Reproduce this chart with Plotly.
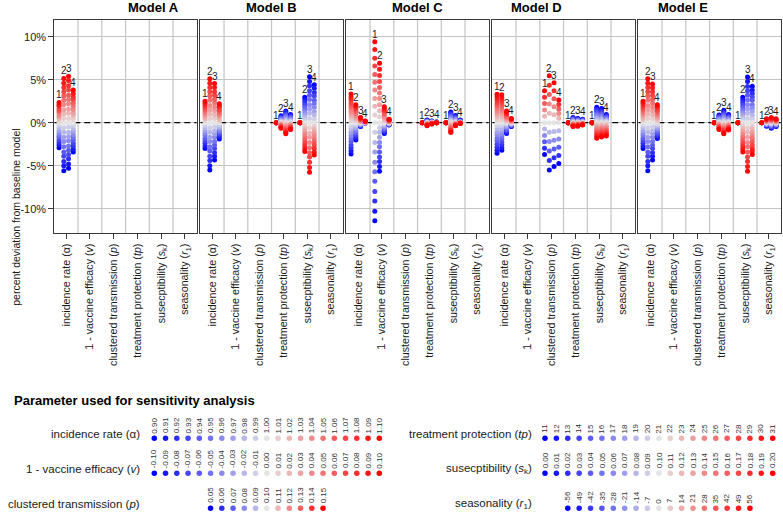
import plotly.graph_objects as go

W, H = 783, 513
FONT = "Liberation Sans, Arial, Helvetica, sans-serif"

# ---------------- labels ----------------
models = ["Model A", "Model B", "Model C", "Model D", "Model E"]
categories = [
    "incidence rate (α)",
    "1 - vaccine efficacy (<i>v</i>)",
    "clustered transmission (<i>p</i>)",
    "treatment protection (<i>tp</i>)",
    "susecptibility (<i>s</i><sub>k</sub>)",
    "seasonality (<i>r</i><sub>1</sub>)",
]
y_tickvals = [-10, -5, 0, 5, 10]
y_ticktext = ["-10%", "-5%", "0%", "5%", "10%"]
y_title = "percent deviation from baseline model"
legend_title = "Parameter used for sensitivity analysis"

# ---------------- parameter values (legend) ----------------
alpha_values = [0.90, 0.91, 0.92, 0.93, 0.94, 0.95, 0.96, 0.97, 0.98, 0.99, 1.00,
                1.01, 1.02, 1.03, 1.04, 1.05, 1.06, 1.07, 1.08, 1.09, 1.10]
v_values = [-0.10, -0.09, -0.08, -0.07, -0.06, -0.05, -0.04, -0.03, -0.02, -0.01, 0.00,
            0.01, 0.02, 0.03, 0.04, 0.05, 0.06, 0.07, 0.08, 0.09, 0.10]
p_values = [0.05, 0.06, 0.07, 0.08, 0.09, 0.10, 0.11, 0.12, 0.13, 0.14, 0.15]
tp_values = [11, 12, 13, 14, 15, 16, 17, 18, 19, 20, 21,
             22, 23, 24, 25, 26, 27, 28, 29, 30, 31]
sk_values = [0.00, 0.01, 0.02, 0.03, 0.04, 0.05, 0.06, 0.07, 0.08, 0.09, 0.10,
             0.11, 0.12, 0.13, 0.14, 0.15, 0.16, 0.17, 0.18, 0.19, 0.20]
r_values = [-56, -49, -42, -35, -28, -21, -14, -7, 0, 7, 14, 21, 28, 35, 42, 49, 56]

# ---------------- percent deviations (per column 1..4, in parameter order) ----------------
Z21 = [0] * 21
Z17 = [0] * 17

A_incidence = [
    [-2.9, -2.6, -2.3, -2.0, -1.7, -1.5, -1.2, -0.9, -0.6, -0.3, 0, 0.2, 0.5, 0.7, 0.9, 1.2, 1.4, 1.6, 1.9, 2.1, 2.35],
    [-5.6, -5.0, -4.5, -3.9, -3.4, -2.8, -2.2, -1.7, -1.1, -0.6, 0, 0.5, 1.0, 1.5, 2.1, 2.6, 3.1, 3.6, 4.1, 4.6, 5.15],
    [-5.3, -4.8, -4.2, -3.7, -3.2, -2.7, -2.1, -1.6, -1.1, -0.5, 0, 0.5, 1.1, 1.6, 2.2, 2.7, 3.2, 3.8, 4.3, 4.9, 5.4],
    [-3.4, -3.1, -2.7, -2.4, -2.0, -1.7, -1.4, -1.0, -0.7, -0.3, 0, 0.4, 0.8, 1.1, 1.5, 1.9, 2.3, 2.7, 3.0, 3.4, 3.8],
]

B_incidence = [
    [-3.0, -2.7, -2.4, -2.1, -1.8, -1.5, -1.2, -0.9, -0.6, -0.3, 0, 0.25, 0.5, 0.75, 1.0, 1.25, 1.5, 1.75, 2.0, 2.25, 2.5],
    [-5.5, -5.0, -4.4, -3.9, -3.3, -2.8, -2.2, -1.7, -1.1, -0.6, 0, 0.5, 1.0, 1.5, 2.0, 2.6, 3.1, 3.6, 4.1, 4.6, 5.1],
    [-4.35, -3.9, -3.5, -3.0, -2.6, -2.2, -1.7, -1.3, -0.9, -0.4, 0, 0.5, 0.9, 1.4, 1.8, 2.3, 2.7, 3.2, 3.6, 4.1, 4.55],
    [-1.9, -1.7, -1.5, -1.3, -1.1, -1.0, -0.8, -0.6, -0.4, -0.2, 0, 0.2, 0.4, 0.7, 0.9, 1.1, 1.3, 1.5, 1.8, 2.0, 2.2],
]
B_treatment = [
    Z21,
    [0.8, 0.72, 0.64, 0.56, 0.48, 0.4, 0.32, 0.24, 0.16, 0.08, 0, -0.07, -0.13, -0.2, -0.26, -0.33, -0.39, -0.46, -0.52, -0.59, -0.65],
    [1.35, 1.22, 1.08, 0.95, 0.81, 0.68, 0.54, 0.41, 0.27, 0.14, 0, -0.13, -0.26, -0.39, -0.52, -0.65, -0.78, -0.91, -1.04, -1.17, -1.3],
    [0.95, 0.86, 0.76, 0.67, 0.57, 0.48, 0.38, 0.29, 0.19, 0.1, 0, -0.08, -0.16, -0.24, -0.32, -0.4, -0.48, -0.56, -0.64, -0.72, -0.8],
]
B_suscept = [
    Z21,
    [2.95, 2.66, 2.36, 2.07, 1.77, 1.48, 1.18, 0.89, 0.59, 0.3, 0, -0.34, -0.67, -1.0, -1.34, -1.68, -2.01, -2.35, -2.68, -3.02, -3.35],
    [5.35, 4.8, 4.3, 3.7, 3.2, 2.7, 2.1, 1.6, 1.1, 0.5, 0, -0.6, -1.2, -1.7, -2.3, -2.9, -3.5, -4.0, -4.6, -5.2, -5.75],
    [4.4, 4.0, 3.5, 3.1, 2.6, 2.2, 1.8, 1.3, 0.9, 0.4, 0, -0.4, -0.75, -1.1, -1.5, -1.9, -2.25, -2.6, -3.0, -3.4, -3.75],
]

C_incidence = [
    [-3.65, -3.3, -2.9, -2.6, -2.2, -1.8, -1.5, -1.1, -0.7, -0.4, 0, 0.3, 0.7, 1.0, 1.3, 1.7, 2.0, 2.3, 2.7, 3.0, 3.35],
    [-2.0, -1.8, -1.6, -1.4, -1.2, -1.0, -0.8, -0.6, -0.4, -0.2, 0, 0.2, 0.4, 0.6, 0.8, 1.05, 1.3, 1.5, 1.7, 1.9, 2.1],
    [-0.45, -0.41, -0.36, -0.32, -0.27, -0.23, -0.18, -0.14, -0.09, -0.05, 0, 0.06, 0.12, 0.18, 0.24, 0.3, 0.36, 0.42, 0.48, 0.54, 0.6],
    [-0.05, -0.045, -0.04, -0.035, -0.03, -0.025, -0.02, -0.015, -0.01, -0.005, 0, 0.02, 0.04, 0.06, 0.08, 0.1, 0.12, 0.14, 0.16, 0.18, 0.2],
]
C_vaccine = [
    [-11.4, -10.3, -9.1, -8.0, -6.8, -5.7, -4.6, -3.4, -2.3, -1.1, 0, 0.9, 1.9, 2.8, 3.8, 4.7, 5.6, 6.6, 7.5, 8.5, 9.4],
    [-5.65, -5.1, -4.5, -4.0, -3.4, -2.8, -2.3, -1.7, -1.1, -0.6, 0, 0.7, 1.4, 2.1, 2.8, 3.45, 4.1, 4.8, 5.5, 6.2, 6.9],
    [-1.25, -1.13, -1.0, -0.88, -0.75, -0.63, -0.5, -0.38, -0.25, -0.13, 0, 0.19, 0.37, 0.56, 0.74, 0.93, 1.11, 1.3, 1.48, 1.67, 1.85],
    [-0.27, -0.24, -0.22, -0.19, -0.16, -0.14, -0.11, -0.08, -0.05, -0.03, 0, 0.04, 0.08, 0.12, 0.16, 0.2, 0.24, 0.28, 0.32, 0.36, 0.4],
]
C_treatment = [
    Z21,
    [0.3, 0.27, 0.24, 0.21, 0.18, 0.15, 0.12, 0.09, 0.06, 0.03, 0, -0.035, -0.07, -0.105, -0.14, -0.175, -0.21, -0.245, -0.28, -0.315, -0.35],
    [0.2, 0.18, 0.16, 0.14, 0.12, 0.1, 0.08, 0.06, 0.04, 0.02, 0, -0.015, -0.03, -0.045, -0.06, -0.075, -0.09, -0.105, -0.12, -0.135, -0.15],
    [0.08, 0.072, 0.064, 0.056, 0.048, 0.04, 0.032, 0.024, 0.016, 0.008, 0, -0.002, -0.004, -0.006, -0.008, -0.01, -0.012, -0.014, -0.016, -0.018, -0.02],
]
C_suscept = [
    Z21,
    [1.25, 1.13, 1.0, 0.88, 0.75, 0.63, 0.5, 0.38, 0.25, 0.13, 0, -0.12, -0.23, -0.35, -0.46, -0.58, -0.69, -0.81, -0.92, -1.04, -1.15],
    [0.85, 0.77, 0.68, 0.6, 0.51, 0.43, 0.34, 0.26, 0.17, 0.09, 0, -0.035, -0.07, -0.105, -0.14, -0.175, -0.21, -0.245, -0.28, -0.315, -0.35],
    [0.3, 0.27, 0.24, 0.21, 0.18, 0.15, 0.12, 0.09, 0.06, 0.03, 0, -0.008, -0.016, -0.024, -0.032, -0.04, -0.048, -0.056, -0.064, -0.072, -0.08],
]

D_incidence = [
    [-3.55, -3.2, -2.85, -2.5, -2.1, -1.8, -1.4, -1.1, -0.7, -0.35, 0, 0.33, 0.66, 1.0, 1.3, 1.65, 2.0, 2.3, 2.65, 3.0, 3.3],
    [-3.2, -2.9, -2.55, -2.25, -1.9, -1.6, -1.3, -0.95, -0.65, -0.3, 0, 0.33, 0.65, 1.0, 1.3, 1.6, 1.95, 2.3, 2.6, 2.9, 3.25],
    [-1.25, -1.13, -1.0, -0.88, -0.75, -0.63, -0.5, -0.38, -0.25, -0.13, 0, 0.14, 0.27, 0.41, 0.54, 0.68, 0.81, 0.95, 1.08, 1.22, 1.35],
    [-0.45, -0.41, -0.36, -0.32, -0.27, -0.23, -0.18, -0.14, -0.09, -0.05, 0, 0.05, 0.1, 0.15, 0.2, 0.25, 0.3, 0.35, 0.4, 0.45, 0.5],
]
D_clustered = [
    [-3.7, -2.96, -2.22, -1.48, -0.74, 0, 0.74, 1.48, 2.22, 2.96, 3.7],
    [-5.5, -4.4, -3.3, -2.2, -1.1, 0, 1.09, 2.18, 3.27, 4.36, 5.45],
    [-5.1, -4.08, -3.06, -2.04, -1.02, 0, 0.93, 1.86, 2.79, 3.72, 4.65],
    [-4.75, -3.8, -2.85, -1.9, -0.95, 0, 0.53, 1.06, 1.59, 2.12, 2.65],
]
D_treatment = [
    Z21,
    [0.6, 0.54, 0.48, 0.42, 0.36, 0.3, 0.24, 0.18, 0.12, 0.06, 0, -0.045, -0.09, -0.135, -0.18, -0.225, -0.27, -0.315, -0.36, -0.405, -0.45],
    [0.5, 0.45, 0.4, 0.35, 0.3, 0.25, 0.2, 0.15, 0.1, 0.05, 0, -0.04, -0.08, -0.12, -0.16, -0.2, -0.24, -0.28, -0.32, -0.36, -0.4],
    [0.4, 0.36, 0.32, 0.28, 0.24, 0.2, 0.16, 0.12, 0.08, 0.04, 0, -0.03, -0.05, -0.08, -0.11, -0.14, -0.16, -0.19, -0.22, -0.24, -0.27],
]
D_suscept = [
    Z21,
    [1.8, 1.62, 1.44, 1.26, 1.08, 0.9, 0.72, 0.54, 0.36, 0.18, 0, -0.18, -0.36, -0.54, -0.72, -0.9, -1.08, -1.26, -1.44, -1.62, -1.8],
    [1.65, 1.49, 1.32, 1.16, 0.99, 0.83, 0.66, 0.5, 0.33, 0.17, 0, -0.17, -0.33, -0.5, -0.66, -0.83, -0.99, -1.16, -1.32, -1.49, -1.65],
    [0.95, 0.86, 0.76, 0.67, 0.57, 0.48, 0.38, 0.29, 0.19, 0.1, 0, -0.16, -0.31, -0.47, -0.62, -0.78, -0.93, -1.09, -1.24, -1.4, -1.55],
]

E_incidence = [
    [-3.0, -2.7, -2.4, -2.1, -1.8, -1.5, -1.2, -0.9, -0.6, -0.3, 0, 0.25, 0.5, 0.75, 1.0, 1.25, 1.5, 1.75, 2.0, 2.25, 2.5],
    [-5.6, -5.0, -4.5, -3.9, -3.4, -2.8, -2.2, -1.7, -1.1, -0.6, 0, 0.5, 1.0, 1.5, 2.0, 2.6, 3.1, 3.6, 4.1, 4.6, 5.1],
    [-4.35, -3.9, -3.5, -3.0, -2.6, -2.2, -1.7, -1.3, -0.9, -0.4, 0, 0.45, 0.9, 1.35, 1.8, 2.25, 2.7, 3.15, 3.6, 4.05, 4.5],
    [-1.85, -1.7, -1.5, -1.3, -1.1, -0.9, -0.7, -0.55, -0.35, -0.2, 0, 0.2, 0.4, 0.6, 0.85, 1.05, 1.25, 1.45, 1.7, 1.9, 2.1],
]
E_treatment = [
    Z21,
    [0.9, 0.81, 0.72, 0.63, 0.54, 0.45, 0.36, 0.27, 0.18, 0.09, 0, -0.08, -0.16, -0.24, -0.32, -0.4, -0.48, -0.56, -0.64, -0.72, -0.8],
    [1.45, 1.31, 1.16, 1.02, 0.87, 0.73, 0.58, 0.44, 0.29, 0.15, 0, -0.13, -0.26, -0.39, -0.52, -0.65, -0.78, -0.91, -1.04, -1.17, -1.3],
    [0.95, 0.86, 0.76, 0.67, 0.57, 0.48, 0.38, 0.29, 0.19, 0.1, 0, -0.09, -0.17, -0.26, -0.34, -0.43, -0.51, -0.6, -0.68, -0.77, -0.85],
]
E_suscept = [
    Z21,
    [2.95, 2.66, 2.36, 2.07, 1.77, 1.48, 1.18, 0.89, 0.59, 0.3, 0, -0.34, -0.68, -1.02, -1.36, -1.7, -2.04, -2.38, -2.72, -3.06, -3.4],
    [5.3, 4.8, 4.2, 3.7, 3.2, 2.65, 2.1, 1.6, 1.1, 0.5, 0, -0.6, -1.1, -1.7, -2.3, -2.8, -3.4, -4.0, -4.5, -5.1, -5.65],
    [4.25, 3.8, 3.4, 3.0, 2.6, 2.1, 1.7, 1.3, 0.85, 0.4, 0, -0.37, -0.74, -1.1, -1.5, -1.85, -2.2, -2.6, -3.0, -3.3, -3.7],
]
E_season = [
    Z17,
    [-0.4, -0.35, -0.3, -0.25, -0.2, -0.15, -0.1, -0.05, 0, 0.06, 0.11, 0.17, 0.23, 0.28, 0.34, 0.39, 0.45],
    [-0.65, -0.57, -0.49, -0.41, -0.33, -0.24, -0.16, -0.08, 0, 0.08, 0.15, 0.23, 0.3, 0.38, 0.45, 0.53, 0.6],
    [-0.45, -0.39, -0.34, -0.28, -0.23, -0.17, -0.11, -0.06, 0, 0.06, 0.11, 0.17, 0.23, 0.28, 0.34, 0.39, 0.45],
]

# which (category index, column lists) appear in each model panel
model_groups = [
    [(0, A_incidence)],
    [(0, B_incidence), (3, B_treatment), (4, B_suscept)],
    [(0, C_incidence), (1, C_vaccine), (3, C_treatment), (4, C_suscept)],
    [(0, D_incidence), (2, D_clustered), (3, D_treatment), (4, D_suscept)],
    [(0, E_incidence), (3, E_treatment), (4, E_suscept), (5, E_season)],
]

param_values = [alpha_values, v_values, p_values, tp_values, sk_values, r_values]
param_labels = [
    [f"{v:.2f}" for v in alpha_values],
    [f"{v:.2f}" for v in v_values],
    [f"{v:.2f}" for v in p_values],
    [str(v) for v in tp_values],
    [f"{v:.2f}" for v in sk_values],
    [str(v) for v in r_values],
]

# ---------------- styling ----------------
colorscale = [[0.0, "#0000ff"], [0.5, "#e5e5e5"], [1.0, "#ff0000"]]
GRID = "#c4c4c4"
LINE = "#3a3a3a"
TXT = "#1a1a1a"
col_offsets = [-0.3, -0.1, 0.1, 0.3]
X_RANGE = [0.5, 6.5]
Y_RANGE = [-12.86, 11.94]
category_bounds = [1.5, 2.5, 3.5, 4.5, 5.5]

fig = go.Figure()
annotations = []
shapes = []

panel_left = [54.3, 200.3, 346.3, 492.3, 638.3]
panel_w = 142.5
panel_top, panel_bot = 20.0, 233.3

for m in range(5):
    sfx = "" if m == 0 else str(m + 1)
    for cat, cols in model_groups[m]:
        pv = param_values[cat]
        for c, vals in enumerate(cols):
            xpos = cat + 1 + col_offsets[c]
            fig.add_trace(go.Scatter(
                x=[xpos] * len(vals), y=vals, mode="markers",
                xaxis="x" + sfx, yaxis="y" + sfx,
                marker=dict(size=5, color=pv, colorscale=colorscale,
                            cmin=min(pv), cmax=max(pv), line=dict(width=0)),
                showlegend=False, hoverinfo="skip"))
            annotations.append(dict(
                x=xpos, y=max(vals), xref="x" + sfx, yref="y" + sfx,
                text=str(c + 1), showarrow=False, yanchor="bottom", yshift=0,
                font=dict(size=10, color=TXT, family=FONT)))
    # axes
    left = panel_left[m]
    fig.update_layout({
        "xaxis" + sfx: dict(
            domain=[left / W, (left + panel_w) / W], range=X_RANGE,
            anchor="y" + sfx, tickmode="array", tickvals=[1, 2, 3, 4, 5, 6],
            ticktext=categories, tickangle=-90, ticks="outside", ticklen=5,
            tickwidth=1, tickcolor=LINE, showline=True, linecolor=LINE,
            linewidth=1, mirror=True, showgrid=False, zeroline=False,
            tickfont=dict(size=10.7, family=FONT, color=TXT)),
        "yaxis" + sfx: dict(
            domain=[1 - panel_bot / H, 1 - panel_top / H], range=Y_RANGE,
            anchor="x" + sfx, tickmode="array", tickvals=y_tickvals,
            ticktext=y_ticktext, showticklabels=(m == 0),
            ticks="outside" if m == 0 else "", ticklen=5, tickcolor=LINE,
            showline=True, linecolor=LINE, linewidth=1, mirror=True,
            showgrid=True, gridcolor=GRID, gridwidth=1, zeroline=False,
            tickfont=dict(size=11, family=FONT, color=TXT)),
    })
    # vertical grid lines between categories
    for b in category_bounds:
        shapes.append(dict(type="line", xref="x" + sfx, x0=b, x1=b,
                           yref="y" + sfx, y0=Y_RANGE[0], y1=Y_RANGE[1],
                           layer="below", line=dict(color=GRID, width=1.2)))
    # dashed zero reference line
    shapes.append(dict(type="line", xref="x" + sfx, x0=X_RANGE[0], x1=X_RANGE[1],
                       yref="y" + sfx, y0=0, y1=0, layer="between",
                       line=dict(color="black", width=1.2, dash="6px,4px")))
    annotations.append(dict(
        x=(left + panel_w / 2) / W, y=1 - 7.5 / H, xref="paper", yref="paper",
        text="<b>" + models[m] + "</b>", showarrow=False, yanchor="middle",
        font=dict(size=13, family=FONT, color="black")))

annotations.append(dict(
    x=8.3 / W, y=1 - 127 / H, xref="paper", yref="paper", text=y_title,
    textangle=-90, showarrow=False, font=dict(size=10.5, family=FONT, color=TXT)))

# ---------------- parameter legend ----------------
annotations.append(dict(
    x=11.5 / W, y=1 - 400 / H, xref="paper", yref="paper", xanchor="left",
    yanchor="middle", text="<b>" + legend_title + "</b>", showarrow=False,
    font=dict(size=13, family=FONT, color="black")))

legend_layout = [(0, 0, "x6"), (1, 1, "x6"), (2, 2, "x6"),
                 (3, 0, "x7"), (4, 1, "x7"), (5, 2, "x7")]
label_right = {"x6": 142.0, "x7": 533.5}
for cat, row, xa in legend_layout:
    pv = param_values[cat]
    start = (21 - len(pv)) // 2
    xs = [start + j for j in range(len(pv))]
    fig.add_trace(go.Scatter(
        x=xs, y=[row] * len(pv), mode="markers", xaxis=xa, yaxis="y6",
        marker=dict(size=5.5, color=pv, colorscale=colorscale, cmin=min(pv),
                    cmax=max(pv), line=dict(width=0)),
        showlegend=False, hoverinfo="skip"))
    for xv, lab in zip(xs, param_labels[cat]):
        annotations.append(dict(
            x=xv, y=row, xref=xa, yref="y6", text=lab, textangle=-90,
            showarrow=False, yanchor="bottom", yshift=3,
            font=dict(size=8, family=FONT, color="#333333")))
    annotations.append(dict(
        x=label_right[xa] / W, y=row, xref="paper", yref="y6", text=categories[cat],
        xanchor="right", yanchor="middle", yshift=4, showarrow=False,
        font=dict(size=11.5, family=FONT, color=TXT)))

fig.update_layout(
    xaxis6=dict(domain=[140 / W, 395 / W], range=[-1.271, 21.396], anchor="y6",
                visible=False, fixedrange=True),
    xaxis7=dict(domain=[530 / W, 1.0], range=[-1.3175, 20.905], anchor="y6",
                visible=False, fixedrange=True),
    yaxis6=dict(domain=[0, 1 - 395 / H], range=[2.134, -1.24], anchor="x6",
                visible=False, fixedrange=True),
)

fig.update_layout(
    width=W, height=H, autosize=False,
    margin=dict(l=0, r=0, t=0, b=0),
    paper_bgcolor="white", plot_bgcolor="white",
    showlegend=False, hovermode=False,
    annotations=annotations, shapes=shapes,
    font=dict(family=FONT),
)

fig.write_html("out.html")
